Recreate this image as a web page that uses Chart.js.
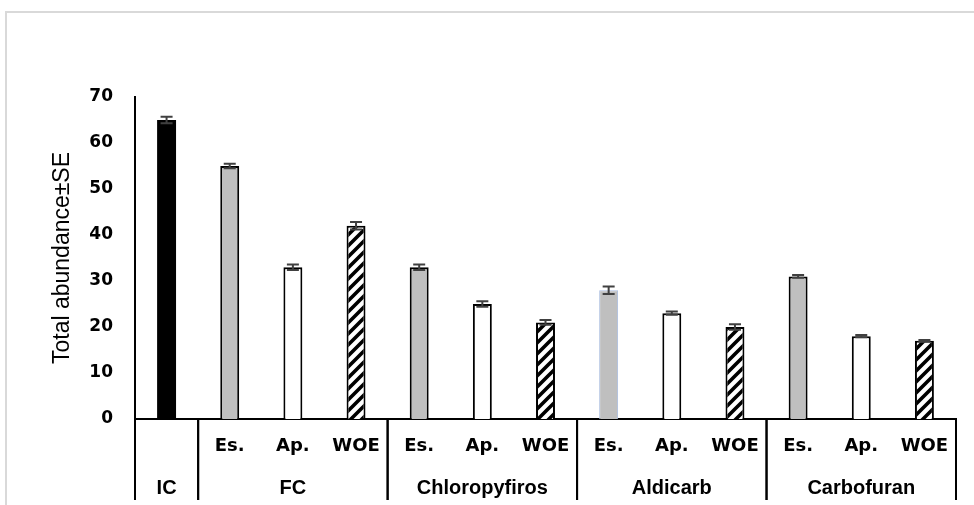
<!DOCTYPE html>
<html lang="en">
<head>
  <meta charset="UTF-8">
  <title>Total abundance</title>
  <script src="https://cdn.jsdelivr.net/npm/chart.js"></script>
  <style>
    html, body { margin: 0; padding: 0; background: #fff; overflow: hidden; }
    .wrap { position: relative; width: 974px; height: 505px; }
    .frame { position: absolute; left: 5px; top: 11px; width: 1000px; height: 520px;
             border-left: 2px solid #d9d9d9; border-top: 2px solid #d9d9d9; }
    canvas { position: absolute; left: 0; top: 0; }
  </style>
</head>
<body>
  <div class="wrap">
    <div class="frame"></div>
    <canvas id="chart" width="974" height="505"></canvas>
  </div>

  <script>
    // data
    const subLabels = ['', 'Es.', 'Ap.', 'WOE', 'Es.', 'Ap.', 'WOE', 'Es.', 'Ap.', 'WOE', 'Es.', 'Ap.', 'WOE'];
    const groupLabels = ['IC', 'FC', 'Chloropyfiros', 'Aldicarb', 'Carbofuran'];
    const groupSizes = [1, 3, 3, 3, 3];
    const abundance = [65, 55, 33, 42, 33, 25, 21, 28, 23, 20, 31, 18, 17];
    const se = [0.7, 0.5, 0.6, 0.8, 0.6, 0.6, 0.5, 0.8, 0.35, 0.6, 0.3, 0.25, 0.15];

    function hatch() {
      const n = 11;
      const c = document.createElement('canvas');
      c.width = n; c.height = n;
      const g = c.getContext('2d');
      g.fillStyle = '#fff';
      g.fillRect(0, 0, n, n);
      g.strokeStyle = '#000';
      g.lineWidth = 3.6;
      g.beginPath();
      g.moveTo(-1, n + 1); g.lineTo(n + 1, -1);
      g.moveTo(-2, 2); g.lineTo(2, -2);
      g.moveTo(n - 2, n + 2); g.lineTo(n + 2, n - 2);
      g.stroke();
      return document.getElementById('chart').getContext('2d').createPattern(c, 'repeat');
    }
    const stripes = hatch();

    const fills = subLabels.map((s, i) => {
      if (i === 0) return '#000';
      if (s === 'Es.') return '#bfbfbf';
      if (s === 'Ap.') return '#fff';
      return stripes;
    });
    const borders = subLabels.map((s, i) => (i === 7 ? '#a9bcdf' : '#000'));
    const borderW = subLabels.map((s, i) => (i === 0 ? 0 : i === 7 ? 1 : 2));

    const errorBars = {
      id: 'errorBars',
      afterDatasetsDraw(chart) {
        const ctx = chart.ctx;
        const y = chart.scales.y;
        const meta = chart.getDatasetMeta(0);
        ctx.save();
        ctx.strokeStyle = '#404040';
        ctx.lineWidth = 2;
        meta.data.forEach((bar, i) => {
          const top = y.getPixelForValue(abundance[i] + se[i]);
          const bot = y.getPixelForValue(abundance[i] - se[i]);
          ctx.beginPath();
          ctx.moveTo(bar.x, top); ctx.lineTo(bar.x, bot);
          ctx.moveTo(bar.x - 6, top); ctx.lineTo(bar.x + 6, top);
          ctx.moveTo(bar.x - 6, bot); ctx.lineTo(bar.x + 6, bot);
          ctx.stroke();
        });
        ctx.restore();
      }
    };

    // group separators and the second row of x labels
    const groupAxis = {
      id: 'groupAxis',
      afterDraw(chart) {
        const ctx = chart.ctx;
        const x = chart.scales.x;
        const base = x.top;
        const edge = i => {
          if (i === 0) return x.left;
          if (i === subLabels.length) return x.right;
          return (x.getPixelForValue(i - 1) + x.getPixelForValue(i)) / 2;
        };
        ctx.save();
        ctx.strokeStyle = '#000';
        ctx.lineWidth = 2;
        ctx.fillStyle = '#000';
        ctx.font = 'bold 20px "Liberation Sans"';
        ctx.textAlign = 'center';
        ctx.textBaseline = 'middle';
        let start = 0;
        groupSizes.forEach((n, g) => {
          const a = edge(start), b = edge(start + n);
          ctx.beginPath();
          ctx.moveTo(a, base); ctx.lineTo(a, base + 81);
          ctx.moveTo(b, base); ctx.lineTo(b, base + 81);
          ctx.stroke();
          ctx.fillText(groupLabels[g], (a + b) / 2, base + 69);
          start += n;
        });
        ctx.restore();
      }
    };

    new Chart(document.getElementById('chart'), {
      type: 'bar',
      data: {
        labels: subLabels,
        datasets: [{
          data: abundance,
          backgroundColor: fills,
          borderColor: borders,
          borderWidth: borderW,
          barPercentage: 0.3,
          categoryPercentage: 1
        }]
      },
      options: {
        responsive: false,
        animation: false,
        events: [],
        layout: { padding: { left: 0, top: 97, right: 18, bottom: 0 } },
        plugins: { legend: { display: false }, tooltip: { enabled: false } },
        scales: {
          x: {
            grid: { display: false, drawTicks: false },
            border: { color: '#000', width: 2 },
            ticks: { color: '#000', padding: 17, font: { family: 'DejaVu Sans', size: 18, weight: 'bold' }, maxRotation: 0, autoSkip: false },
            afterFit: s => { s.height = 86; }
          },
          y: {
            min: 0, max: 70,
            grid: { display: false, drawTicks: false },
            border: { color: '#000', width: 2 },
            ticks: { stepSize: 10, color: '#000', padding: 22, font: { family: 'DejaVu Sans', size: 17, weight: 'bold' } },
            title: { display: true, text: 'Total abundance±SE', color: '#000', padding: { top: 49 },
                     font: { family: 'Liberation Sans', size: 23 } },
            afterFit: s => { s.width = 135; }
          }
        }
      },
      plugins: [errorBars, groupAxis]
    });
  </script>
</body>
</html>
